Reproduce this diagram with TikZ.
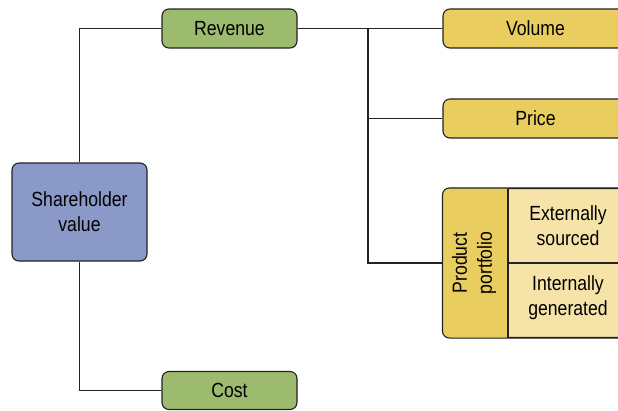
\documentclass[tikz,border=0pt]{standalone}
\usepackage{fontspec}
\setmainfont{Liberation Sans}[FakeStretch=0.86]
\definecolor{blueF}{HTML}{8A99C8}
\definecolor{greenF}{HTML}{9DBB6E}
\definecolor{yellowF}{HTML}{EACD5F}
\definecolor{paleF}{HTML}{F6E3A8}
\definecolor{edge}{HTML}{222222}
\begin{document}
\begin{tikzpicture}[x=1pt,y=-1pt,
  box/.style={draw=edge, line width=1.1pt, rounded corners=7pt, inner sep=0pt,
    font=\fontsize{20.5}{25}\selectfont, align=center},
  txt/.style={inner sep=0pt, font=\fontsize{20.5}{25}\selectfont, align=center},
  conn/.style={draw=edge, line width=1.1pt}]
\useasboundingbox (0,0) rectangle (618,410);
\clip (0,0) rectangle (618,410);

% boxes
\node[box, fill=blueF, minimum width=135pt, minimum height=98pt] (sv) at (79.5,212) {Shareholder\\value};
\node[box, fill=greenF, minimum width=135pt, minimum height=39pt] (rev) at (229.5,28.5) {Revenue};
\node[box, fill=greenF, minimum width=135pt, minimum height=38pt] (cost) at (229.5,390.5) {Cost};
\node[box, fill=yellowF, minimum width=185pt, minimum height=39pt] (vol) at (535.5,28.5) {Volume};
\node[box, fill=yellowF, minimum width=185pt, minimum height=39pt] (price) at (535.5,118.5) {Price};
\node[box, fill=paleF, minimum width=185pt, minimum height=149pt] (pf) at (535.5,263) {};

% dark left band of the portfolio box, with its cell dividers
\begin{scope}
  \clip[rounded corners=7pt] (pf.north west) rectangle (pf.south east);
  \fill[yellowF] (pf.north west) rectangle (508,337.5);
\end{scope}
\draw[edge, line width=1.1pt, rounded corners=7pt] (pf.north west) rectangle (pf.south east);
\draw[conn] (508,188.5) -- (508,337.5);
\draw[conn] (508,263) -- (pf.east);

\node[txt, rotate=90] (pfl) at (474,263) {Product\\portfolio};
\node[txt] (ext) at (568,226) {Externally\\sourced};
\node[txt] (int) at (568,298) {Internally\\generated};

% connectors
\coordinate (jr) at (368,28.5);
\draw[conn] (sv.north) |- (rev.west);
\draw[conn] (sv.south) |- (cost.west);
\draw[conn] (rev.east) -- (vol.west);
\draw[conn] (jr) |- (pf.west);
\draw[conn] (jr |- price.west) -- (price.west);
\end{tikzpicture}
\end{document}
